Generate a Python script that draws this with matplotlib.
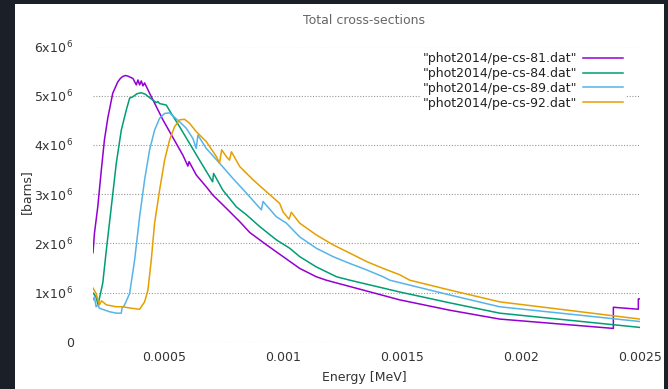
import matplotlib
matplotlib.use('Agg')
import matplotlib.pyplot as plt
from matplotlib.patches import Rectangle

# energies in MeV, cross-sections in barns
e81 = [0.000200, 0.000206, 0.000220, 0.000235, 0.000248, 0.000262, 0.000283, 0.000304,
       0.000315, 0.000325, 0.000336, 0.000346, 0.000368, 0.000382, 0.000389, 0.000396,
       0.000403, 0.000410, 0.000417, 0.000438, 0.000466, 0.000494, 0.000522, 0.000550,
       0.000578, 0.000599, 0.000604, 0.000634, 0.000676, 0.000704, 0.000761, 0.000817,
       0.000859, 0.000929, 0.000999, 0.001069, 0.001139, 0.001181, 0.001490, 0.001700,
       0.001910, 0.002388, 0.002388, 0.002493, 0.002493, 0.002500]
cs81 = [1.81, 2.20, 2.74, 3.49, 4.10, 4.54, 5.05, 5.28,
        5.35, 5.39, 5.41, 5.40, 5.35, 5.22, 5.32, 5.22,
        5.30, 5.20, 5.26, 5.05, 4.78, 4.51, 4.27, 4.03,
        3.79, 3.57, 3.66, 3.39, 3.15, 2.98, 2.71, 2.44,
        2.22, 1.97, 1.73, 1.49, 1.32, 1.25, 0.85, 0.64,
        0.46, 0.27, 0.70, 0.66, 0.87, 0.87]

e84 = [0.000200, 0.000213, 0.000221, 0.000241, 0.000256, 0.000277, 0.000298, 0.000319,
       0.000340, 0.000354, 0.000368, 0.000385, 0.000403, 0.000420, 0.000438, 0.000466,
       0.000473, 0.000480, 0.000508, 0.000529, 0.000564, 0.000606, 0.000648, 0.000703,
       0.000707, 0.000746, 0.000803, 0.000845, 0.000901, 0.000971, 0.001027, 0.001069,
       0.001139, 0.001224, 0.001280, 0.001490, 0.001700, 0.001910, 0.002500]
cs84 = [0.99, 0.91, 0.75, 1.19, 1.86, 2.74, 3.63, 4.30,
        4.71, 4.95, 4.98, 5.04, 5.06, 5.03, 4.96, 4.86,
        4.88, 4.84, 4.81, 4.64, 4.37, 4.03, 3.69, 3.25,
        3.42, 3.08, 2.74, 2.58, 2.34, 2.07, 1.90, 1.73,
        1.52, 1.32, 1.25, 1.01, 0.79, 0.58, 0.29]

e89 = [0.000200, 0.000206, 0.000213, 0.000220, 0.000227, 0.000269, 0.000298, 0.000319,
       0.000322, 0.000333, 0.000354, 0.000375, 0.000396, 0.000417, 0.000438, 0.000459,
       0.000480, 0.000501, 0.000522, 0.000543, 0.000564, 0.000592, 0.000620, 0.000634,
       0.000641, 0.000676, 0.000732, 0.000788, 0.000845, 0.000908, 0.000915, 0.000971,
       0.001013, 0.001069, 0.001139, 0.001209, 0.001280, 0.001350, 0.001420, 0.001448,
       0.001700, 0.001910, 0.002500]
cs89 = [0.85, 0.91, 0.71, 0.75, 0.68, 0.61, 0.58, 0.58,
        0.68, 0.75, 0.98, 1.66, 2.54, 3.29, 3.90, 4.30,
        4.54, 4.64, 4.65, 4.56, 4.47, 4.34, 4.13, 3.93,
        4.20, 3.93, 3.63, 3.32, 3.02, 2.68, 2.85, 2.54,
        2.41, 2.13, 1.90, 1.73, 1.59, 1.46, 1.32, 1.25,
        0.95, 0.71, 0.41]

e92 = [0.000200, 0.000213, 0.000220, 0.000227, 0.000236, 0.000256, 0.000298, 0.000325,
       0.000361, 0.000396, 0.000417, 0.000431, 0.000445, 0.000459, 0.000480, 0.000501,
       0.000522, 0.000543, 0.000564, 0.000585, 0.000606, 0.000634, 0.000676, 0.000719,
       0.000732, 0.000741, 0.000761, 0.000774, 0.000782, 0.000817, 0.000873, 0.000929,
       0.000985, 0.000999, 0.001024, 0.001034, 0.001069, 0.001139, 0.001209, 0.001280,
       0.001350, 0.001420, 0.001490, 0.001532, 0.001700, 0.001910, 0.002500]
cs92 = [1.09, 0.98, 0.85, 0.75, 0.83, 0.75, 0.71, 0.71,
        0.68, 0.66, 0.81, 1.05, 1.66, 2.41, 3.08, 3.69,
        4.10, 4.37, 4.51, 4.52, 4.44, 4.27, 4.07, 3.76,
        3.63, 3.90, 3.76, 3.69, 3.86, 3.56, 3.29, 3.05,
        2.81, 2.64, 2.49, 2.63, 2.41, 2.17, 1.97, 1.80,
        1.63, 1.49, 1.36, 1.25, 1.05, 0.81, 0.46]

labels = ['"phot2014/pe-cs-81.dat"', '"phot2014/pe-cs-84.dat"',
          '"phot2014/pe-cs-89.dat"', '"phot2014/pe-cs-92.dat"']
colors = ['#9400d3', '#009e73', '#56b4e9', '#e69f00']
xticks = [0.0005, 0.001, 0.0015, 0.002, 0.0025]
xticklabels = ['0.0005', '0.001', '0.0015', '0.002', '0.0025']
yticks = [0, 1, 2, 3, 4, 5, 6]

W, H = 668, 389
fig = plt.figure(figsize=(W / 100, H / 100), dpi=100, facecolor='#1b1f27')
# white canvas inside the dark frame
fig.patches.append(Rectangle((15 / W, 0), (664 - 15) / W, (H - 4) / H,
                             transform=fig.transFigure, facecolor='white',
                             edgecolor='none', zorder=-10))

ax = fig.add_axes([93 / W, 1 - 341.7 / H, (640 - 93) / W, (341.7 - 46.5) / H])
ax.set_facecolor('none')

for e, cs, lab, c in zip([e81, e84, e89, e92], [cs81, cs84, cs89, cs92], labels, colors):
    ax.plot(e, [v * 1e6 for v in cs], color=c, lw=1.1, label=lab)

ax.set_xlim(0.0002, 0.0025)
ax.set_ylim(0, 6e6)
ax.set_xticks(xticks)
ax.set_xticklabels(xticklabels)
ax.set_yticks([v * 1e6 for v in yticks])
ax.set_yticklabels(['0'] + ['%dx10$^{\\,6}$' % v for v in yticks[1:]])
ax.tick_params(length=0, labelsize=9, labelcolor='#333333')
ax.tick_params(axis='y', pad=13.5)
ax.tick_params(axis='x', pad=6.5)
for s in ax.spines.values():
    s.set_visible(False)
ax.grid(axis='y', color='#999999', linestyle=(0, (1, 1.5)), lw=0.8)
ax.set_axisbelow(True)

leg = ax.legend(loc='upper right', bbox_to_anchor=(625.5 / W, 1 - 49.5 / H),
                bbox_transform=fig.transFigure, markerfirst=False, fontsize=9,
                handlelength=3.2, handletextpad=0.5, labelspacing=0.15,
                borderpad=0.2, borderaxespad=0, frameon=True, fancybox=False,
                framealpha=1, edgecolor='none', facecolor='white')
for t in leg.get_texts():
    t.set_color('#222222')

fig.text(364 / W, 1 - 20 / H, 'Total cross-sections', ha='center', va='center',
         fontsize=9, color='#666666')
fig.text(364 / W, 1 - 378 / H, 'Energy [MeV]', ha='center', va='center',
         fontsize=9, color='#333333')
fig.text(26 / W, 1 - 192 / H, '[barns]', ha='center', va='center', rotation=90,
         fontsize=9, color='#333333')

fig.savefig('out.png', dpi=100, facecolor=fig.get_facecolor())
